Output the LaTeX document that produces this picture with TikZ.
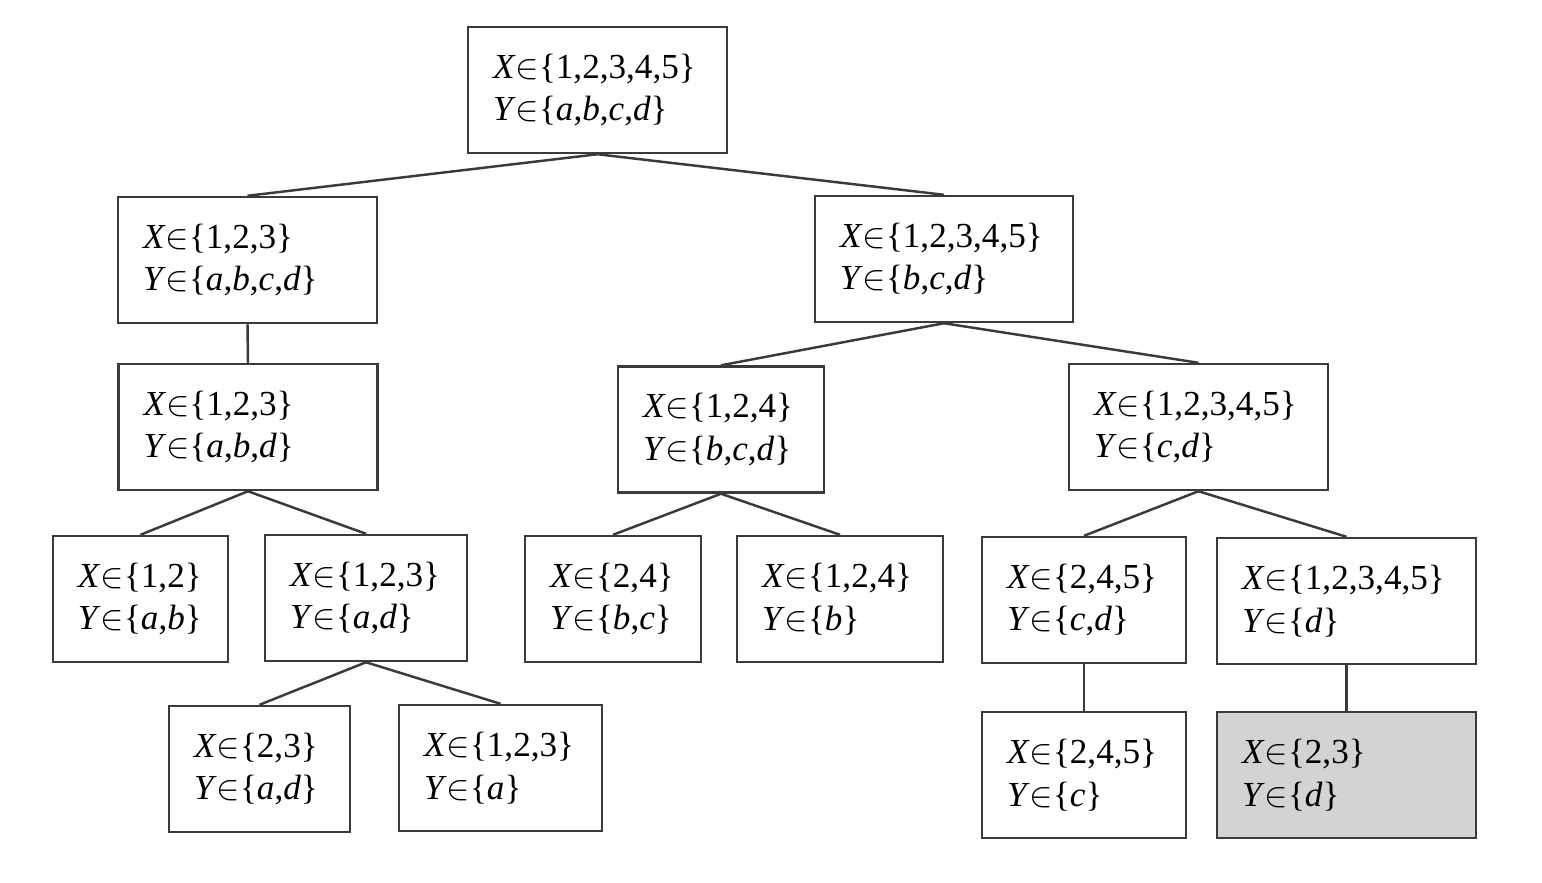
\documentclass[tikz,border=0pt]{standalone}
\usepackage{fontspec}
\setmainfont{Liberation Serif}
\definecolor{boxline}{HTML}{3A3A3A}
\definecolor{leafgrey}{HTML}{D3D3D3}

\newcommand{\dom}[2]{\textit{X}$\in$\{#1\}\\\textit{Y}$\in$\{#2\}}

\tikzset{
    dombox/.style={draw=boxline, line width=0.7pt, rectangle, minimum height=1.26cm,
        inner xsep=0.25cm, text width=#1cm-0.5cm, align=left,
        font=\fontsize{10}{12.2}\selectfont},
    branch/.style={draw=boxline, line width=0.7pt}
}

\begin{document}
\begin{tikzpicture}
    \useasboundingbox (0,0) rectangle (15.42,-8.82);

    % root
    \node[dombox=2.59] (root) at (5.975,-0.90) {\dom{1,2,3,4,5}{\textit{a},\textit{b},\textit{c},\textit{d}}};

    % first level
    \node[dombox=2.59] (xl) at (2.475,-2.60) {\dom{1,2,3}{\textit{a},\textit{b},\textit{c},\textit{d}}};
    \node[dombox=2.58] (xr) at (9.44,-2.59) {\dom{1,2,3,4,5}{\textit{b},\textit{c},\textit{d}}};

    % second level
    \node[dombox=2.59] (xll) at (2.48,-4.27) {\dom{1,2,3}{\textit{a},\textit{b},\textit{d}}};
    \node[dombox=2.06] (xrl) at (7.21,-4.295) {\dom{1,2,4}{\textit{b},\textit{c},\textit{d}}};
    \node[dombox=2.59] (xrr) at (11.985,-4.27) {\dom{1,2,3,4,5}{\textit{c},\textit{d}}};

    % third level
    \node[dombox=1.75] (ab) at (1.405,-5.99) {\dom{1,2}{\textit{a},\textit{b}}};
    \node[dombox=2.02] (ad) at (3.66,-5.98) {\dom{1,2,3}{\textit{a},\textit{d}}};
    \node[dombox=1.76] (bc) at (6.13,-5.99) {\dom{2,4}{\textit{b},\textit{c}}};
    \node[dombox=2.06] (b) at (8.40,-5.99) {\dom{1,2,4}{\textit{b}}};
    \node[dombox=2.04] (cd) at (10.84,-6.00) {\dom{2,4,5}{\textit{c},\textit{d}}};
    \node[dombox=2.59] (d) at (13.465,-6.01) {\dom{1,2,3,4,5}{\textit{d}}};

    % fourth level
    \node[dombox=1.81] (ad2) at (2.595,-7.69) {\dom{2,3}{\textit{a},\textit{d}}};
    \node[dombox=2.03] (a) at (5.005,-7.68) {\dom{1,2,3}{\textit{a}}};
    \node[dombox=2.04] (c) at (10.84,-7.75) {\dom{2,4,5}{\textit{c}}};
    \node[dombox=2.59, fill=leafgrey] (dd) at (13.465,-7.75) {\dom{2,3}{\textit{d}}};

    % branches
    \draw[branch] (root.south) -- (xl.north);
    \draw[branch] (root.south) -- (xr.north);
    \draw[branch] (xl.south) -- (xll.north);
    \draw[branch] (xr.south) -- (xrl.north);
    \draw[branch] (xr.south) -- (xrr.north);
    \draw[branch] (xll.south) -- (ab.north);
    \draw[branch] (xll.south) -- (ad.north);
    \draw[branch] (xrl.south) -- (bc.north);
    \draw[branch] (xrl.south) -- (b.north);
    \draw[branch] (xrr.south) -- (cd.north);
    \draw[branch] (xrr.south) -- (d.north);
    \draw[branch] (ad.south) -- (ad2.north);
    \draw[branch] (ad.south) -- (a.north);
    \draw[branch] (cd.south) -- (c.north);
    \draw[branch] (d.south) -- (dd.north);
\end{tikzpicture}
\end{document}
